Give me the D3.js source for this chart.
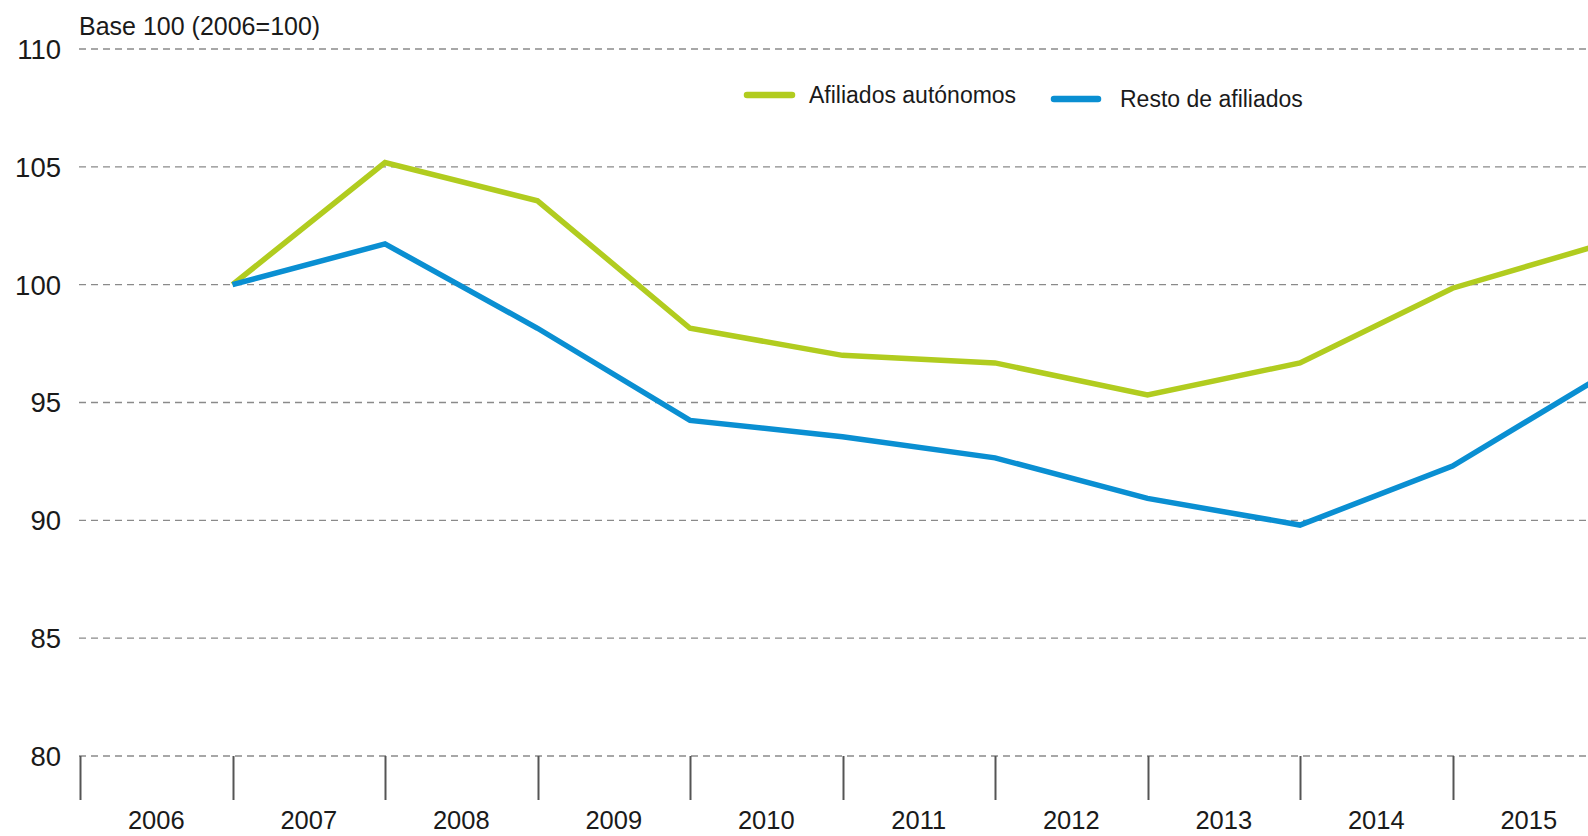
<!DOCTYPE html>
<html>
<head>
<meta charset="utf-8">
<script src="https://cdn.jsdelivr.net/npm/d3@7"></script>
<style>
  html, body { margin: 0; padding: 0; background: #fff; overflow: hidden; }
  svg { display: block; font-family: "Liberation Sans", Arial, sans-serif; }
</style>
</head>
<body>
<svg id="chart" width="1588" height="836"></svg>
<script>
const years = [2006, 2007, 2008, 2009, 2010, 2011, 2012, 2013, 2014, 2015];
const autonomos = [100, 105.18, 103.56, 98.15, 97.0, 96.68, 95.32, 96.68, 99.85, 101.75];
const resto = [100, 101.73, 98.15, 94.24, 93.55, 92.65, 90.93, 89.8, 92.3, 96.2];
const yTicks = [80, 85, 90, 95, 100, 105, 110];
const yLabel = "Base 100 (2006=100)";
const seriesNames = ["Afiliados autónomos", "Resto de afiliados"];
const colors = ["#b1cc1f", "#0a8fd2"];

const W = 1588, H = 836;
const svg = d3.select("#chart");

// x: year boundaries; a year's value is plotted at the end of its band
const x = d3.scaleLinear().domain([2005, 2015]).range([80, 1605]);
const y = d3.scaleLinear().domain([80, 110]).range([756, 49]);

// gridlines
svg.append("g").selectAll("line").data(yTicks).join("line")
  .attr("x1", 79).attr("x2", W)
  .attr("y1", d => y(d)).attr("y2", d => y(d))
  .attr("stroke", "#8a8a8a").attr("stroke-width", 1.4)
  .attr("stroke-dasharray", "7,5");

// y tick labels
svg.append("g").selectAll("text").data(yTicks).join("text")
  .attr("x", 61).attr("y", d => y(d)).attr("dy", "0.36em")
  .attr("text-anchor", "end").attr("font-size", 27.5).attr("fill", "#1a1a1a")
  .text(d => d);

// y label
svg.append("text").attr("x", 79).attr("y", 35)
  .attr("font-size", 25).attr("fill", "#1a1a1a").text(yLabel);

// x ticks (band boundaries)
const bounds = d3.range(2005, 2016);
svg.append("g").selectAll("line").data(bounds).join("line")
  .attr("x1", d => Math.round(x(d)) + 0.5).attr("x2", d => Math.round(x(d)) + 0.5)
  .attr("y1", y(80)).attr("y2", 800)
  .attr("stroke", "#555").attr("stroke-width", 2);

// year labels at band centers
svg.append("g").selectAll("text").data(years).join("text")
  .attr("x", d => x(d - 0.5)).attr("y", 829)
  .attr("text-anchor", "middle").attr("font-size", 25.5).attr("fill", "#1a1a1a")
  .text(d => d);

// lines
const line = d3.line().x((d, i) => x(years[i])).y(d => y(d));
[autonomos, resto].forEach((s, k) => {
  svg.append("path").datum(s)
    .attr("d", line)
    .attr("fill", "none").attr("stroke", colors[k])
    .attr("stroke-width", 5.5).attr("stroke-linejoin", "miter");
});

// legend
const legend = [
  { x1: 747, x2: 792, y: 95, tx: 809 },
  { x1: 1054, x2: 1098, y: 99, tx: 1120 }
];
legend.forEach((l, k) => {
  svg.append("line").attr("x1", l.x1).attr("x2", l.x2).attr("y1", l.y).attr("y2", l.y)
    .attr("stroke", colors[k]).attr("stroke-width", 6.5).attr("stroke-linecap", "round");
  svg.append("text").attr("x", l.tx).attr("y", l.y).attr("dy", "0.36em")
    .attr("font-size", 23).attr("fill", "#1a1a1a").text(seriesNames[k]);
});
</script>
</body>
</html>
